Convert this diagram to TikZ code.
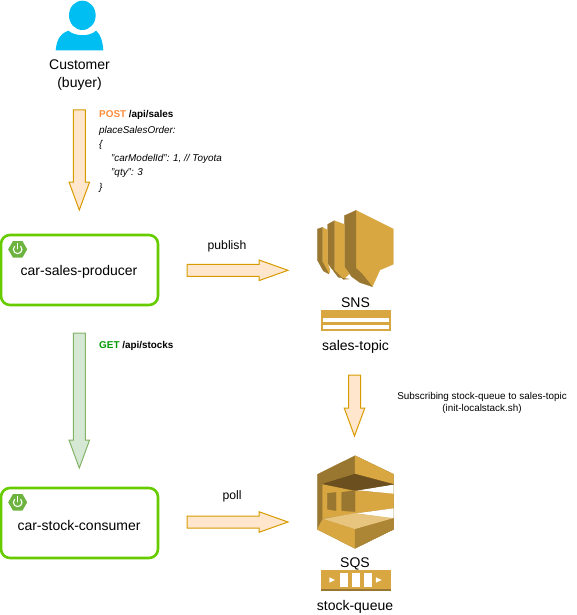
\documentclass[tikz,border=0pt]{standalone}
\usepackage{fontspec}
\setmainfont{Liberation Sans}
\usetikzlibrary{calc}
\definecolor{aws}{HTML}{D9A741}
\definecolor{awsd}{HTML}{997730}
\definecolor{awsdd}{HTML}{6B4F1E}
\definecolor{awsp}{HTML}{E8C57F}
\definecolor{bluep}{HTML}{00BEF2}
\definecolor{sprg}{HTML}{6DB33F}
\definecolor{postc}{HTML}{FF8C3A}
\definecolor{getc}{HTML}{009900}
\tikzset{
  appbox/.style={draw={rgb,255:red,102;green,204;blue,0},line width=2.6pt,rounded corners=9pt,minimum width=157pt,minimum height=70pt,inner sep=0pt},
  applabel/.style={font=\fontsize{14}{16}\selectfont,inner sep=0pt},
  lab/.style={font=\fontsize{14}{16}\selectfont,inner sep=0pt,align=center},
  smalllab/.style={font=\fontsize{12.2}{14}\selectfont,inner sep=0pt},
  tiny/.style={font=\fontsize{9.9}{12.5}\selectfont,inner sep=0pt,align=center},
  code/.style={font=\fontsize{9.9}{13}\selectfont,inner sep=0pt,anchor=west},
  orangearrow/.style={draw={rgb,255:red,215;green,155;blue,0},fill={rgb,255:red,255;green,230;blue,204},line width=1pt,line join=miter},
  greenarrow/.style={draw={rgb,255:red,130;green,179;blue,102},fill={rgb,255:red,213;green,232;blue,212},line width=1pt,line join=miter},
  zoomed/.style={x=.3333pt,y=-.3333pt},
  facet/.style={fill=#1,draw=#1,line width=.2pt}
}
\newcommand{\blockarrow}[3]{%
  \coordinate (neck) at ($(#2)!#3!(#1)$);
  \path ($(#1)!6pt!90:(#2)$) coordinate (p1) ($(#1)!6pt!-90:(#2)$) coordinate (p2)
        ($(neck)!6pt!90:(#2)$) coordinate (p3) ($(neck)!6pt!-90:(#2)$) coordinate (p4)
        ($(neck)!10.3pt!90:(#2)$) coordinate (p5) ($(neck)!10.3pt!-90:(#2)$) coordinate (p6);
}
\newcommand{\springicon}[2]{%
  \fill[sprg] (#1-9.5,#2) -- (#1-4.7,#2-8.3) -- (#1+4.7,#2-8.3) -- (#1+9.5,#2) -- (#1+4.7,#2+8.3) -- (#1-4.7,#2+8.3) -- cycle;
  \draw[white,line width=1.1pt,line cap=round] (#1+3,#2-3) arc[start angle=45,end angle=-225,radius=4.3pt];
  \draw[white,line width=1.1pt,line cap=round] (#1,#2-5.8) -- (#1,#2-0.5);
}
\begin{document}
\begin{tikzpicture}[x=1pt,y=-1pt]
\useasboundingbox (0,0) rectangle (577,615);
% person
\begin{scope}[zoomed]
\fill[bluep] (167,151) .. controls (170,125) and (176,103) .. (205,92) .. controls (222,108) and (268,112) .. (288,92) .. controls (302,102) and (308,125) .. (310,151) -- cycle;
\fill[bluep] (247,46) ellipse[x radius=40,y radius=44];
\end{scope}
\node[lab] (customer) at (79.5,75.5) {Customer\\[2pt](buyer)};
% api text
\node[code,font=\fontsize{9.9}{13}\bfseries\selectfont] (post) at (99,115) {\textcolor{postc}{POST} /api/sales};
\node[code,font=\fontsize{9.9}{13}\itshape\selectfont] (order) at (99,130.5) {placeSalesOrder:};
\node[code,font=\fontsize{9.9}{13}\itshape\selectfont] (ob) at (99,145) {\{};
\node[code,font=\fontsize{9.9}{13}\itshape\selectfont] (model) at (111,158.5) {"carModelId": 1, // Toyota};
\node[code,font=\fontsize{9.9}{13}\itshape\selectfont] (qty) at (111,173) {"qty": 3};
\node[code,font=\fontsize{9.9}{13}\itshape\selectfont] (cb) at (99,187.5) {\}};
% boxes
\node[appbox] (producer) at (79.5,270) {};
\node[applabel] (producertext) at (79,272) {car-sales-producer};
\springicon{17.7}{249.3}
\node[appbox] (consumer) at (79.5,523) {};
\node[applabel] (consumertext) at (79,525) {car-stock-consumer};
\springicon{17.7}{502.3}
% arrows
\coordinate (a1s) at (79.3,110); \coordinate (a1e) at (79.3,210);
\blockarrow{a1s}{a1e}{28pt}
\draw[orangearrow] (p1) -- (p3) -- (p5) -- (a1e) -- (p6) -- (p4) -- (p2) -- cycle;
\coordinate (a2s) at (79.3,333); \coordinate (a2e) at (79.3,468);
\blockarrow{a2s}{a2e}{28pt}
\draw[greenarrow] (p1) -- (p3) -- (p5) -- (a2e) -- (p6) -- (p4) -- (p2) -- cycle;
\coordinate (a3s) at (187,270.3); \coordinate (a3e) at (288,270.3);
\blockarrow{a3s}{a3e}{29pt}
\draw[orangearrow] (p1) -- (p3) -- (p5) -- (a3e) -- (p6) -- (p4) -- (p2) -- cycle;
\coordinate (a4s) at (187,522); \coordinate (a4e) at (288,522);
\blockarrow{a4s}{a4e}{29pt}
\draw[orangearrow] (p1) -- (p3) -- (p5) -- (a4e) -- (p6) -- (p4) -- (p2) -- cycle;
\coordinate (a5s) at (354.5,375); \coordinate (a5e) at (354.5,436);
\blockarrow{a5s}{a5e}{28pt}
\draw[orangearrow] (p1) -- (p3) -- (p5) -- (a5e) -- (p6) -- (p4) -- (p2) -- cycle;
% labels
\node[smalllab] (publish) at (227,246) {publish};
\node[smalllab] (poll) at (232,496) {poll};
\node[code,font=\fontsize{9.9}{13}\bfseries\selectfont] (get) at (99,346) {\textcolor{getc}{GET} /api/stocks};
\node[tiny] (sub) at (482,403) {Subscribing stock-queue to sales-topic\\(init-localstack.sh)};
% SNS
\begin{scope}[shift={(290,190)},zoomed]
\path[facet=aws] (198,61) -- (310,117) -- (310,223) -- (270,240) -- (247,290) -- (215,250) -- (198,235) -- cycle;
\path[facet=awsd] (163,77) -- (198,61) -- (198,235) -- (215,250) -- (247,290) -- (210,278) -- (185,260) -- (163,230) -- cycle;
\path[facet=aws] (133,92) -- (163,103) -- (163,230) -- (178,252) -- (160,268) -- (133,240) -- cycle;
\path[facet=awsd] (113,103) -- (133,92) -- (133,240) -- (160,268) -- (177,267) -- (145,262) -- (113,220) -- cycle;
\path[facet=aws] (97,112) -- (113,120) -- (113,220) -- (120,240) -- (117,252) -- (105,235) -- (97,215) -- cycle;
\path[facet=awsd] (82,117) -- (97,112) -- (97,215) -- (117,252) -- (100,243) -- (82,210) -- cycle;
\fill[aws] (92,360) rectangle (302,422);
\fill[white] (100,385) rectangle (297,397);
\fill[white] (100,406) rectangle (297,416);
\end{scope}
\node[lab] (snslabel) at (355.5,303) {SNS};
\node[lab] (topic) at (355.5,346.5) {sales-topic};
% SQS
\begin{scope}[shift={(300,445)},zoomed]
\path[facet=awsd] (165,32) -- (281,88) -- (281,253) -- (165,310) -- (52,253) -- (52,88) -- cycle;
\path[facet=aws] (165,32) -- (281,88) -- (281,118) -- (165,87) -- cycle;
\path[facet=aws] (68,117) -- (165,137) -- (281,145) -- (281,190) -- (165,205) -- (68,220) -- cycle;
\fill[white] (165,137) -- (281,118) -- (281,146) -- (185,137) -- cycle;
\fill[white] (165,205) -- (185,203) -- (281,190) -- (281,221) -- cycle;
\path[facet=awsdd] (68,117) -- (165,87) -- (281,118) -- (165,137) -- cycle;
\path[facet=awsd] (82,145) -- (108,142) -- (108,197) -- (82,193) -- cycle;
\path[facet=awsd] (125,142) -- (165,136) -- (165,200) -- (125,197) -- cycle;
\path[facet=awsp] (68,222) -- (165,205) -- (281,220) -- (165,253) -- cycle;
\path[facet=aws] (52,253) -- (68,222) -- (165,253) -- (165,310) -- cycle;
\path[facet=awsd!70!aws] (165,253) -- (281,220) -- (281,253) -- (165,310) -- cycle;
\fill[aws] (62,375) rectangle (272,437);
\fill[awsd] (62,433) rectangle (272,437);
\fill[white] (120,385) rectangle (143,427);
\fill[white] (156,385) rectangle (179,427);
\fill[white] (192,385) rectangle (215,427);
\fill[white] (88,397) -- (105,405) -- (88,413) -- cycle;
\fill[white] (228,397) -- (245,405) -- (228,413) -- cycle;
\end{scope}
\node[lab] (sqslabel) at (355,563.5) {SQS};
\node[lab] (queue) at (355,606.5) {stock-queue};
\end{tikzpicture}
\end{document}
